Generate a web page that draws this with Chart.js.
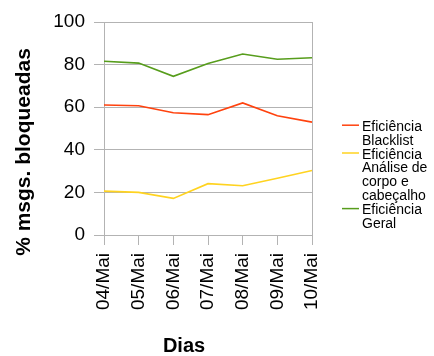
<!DOCTYPE html>
<html>
<head>
<meta charset="utf-8">
<script src="https://cdn.jsdelivr.net/npm/chart.js@4/dist/chart.umd.min.js"></script>
<style>
  html, body { margin: 0; padding: 0; background: #ffffff; }
  #wrap { width: 434px; height: 356px; }
</style>
</head>
<body>
<div id="wrap"><canvas id="c" width="434" height="356"></canvas></div>
<script>
const categories = ["04/Mai", "05/Mai", "06/Mai", "07/Mai", "08/Mai", "09/Mai", "10/Mai"];
const blacklist = [61.0, 60.7, 57.4, 56.5, 62.0, 56.0, 53.0];
const analise = [20.6, 20.0, 17.2, 24.1, 23.1, 26.6, 30.3];
const geral = [81.6, 80.7, 74.5, 80.5, 85.0, 82.5, 83.2];
const seriesNames = ["Eficiência\nBlacklist", "Eficiência\nAnálise de\ncorpo e\ncabeçalho", "Eficiência\nGeral"];
const yTicks = [0, 20, 40, 60, 80, 100];
const yTitle = "% msgs. bloqueadas";
const xTitle = "Dias";

const colors = ["#ff420e", "#ffd320", "#579d1c"];
const gridColor = "#b3b3b3";
const FONT = "'Liberation Sans', Arial, sans-serif";

const extras = {
  id: 'extras',
  afterDraw(chart) {
    const ctx = chart.ctx;
    ctx.save();
    // axis titles
    ctx.fillStyle = '#000';
    ctx.font = "bold 21px " + FONT;
    ctx.textAlign = 'center';
    ctx.textBaseline = 'middle';
    ctx.translate(24, 152);
    ctx.rotate(-Math.PI / 2);
    ctx.fillText(yTitle, 0, 0);
    ctx.setTransform(1, 0, 0, 1, 0, 0);
    ctx.font = "bold 20px " + FONT;
    ctx.fillText(xTitle, 184, 346);
    // legend
    ctx.font = "14px " + FONT;
    ctx.textAlign = 'left';
    ctx.textBaseline = 'alphabetic';
    let baseline = 130.7;
    const lh = 13.9;
    chart.data.datasets.forEach((ds) => {
      const lines = ds.label.split('\n');
      ctx.strokeStyle = ds.borderColor;
      ctx.lineWidth = 1.5;
      ctx.beginPath();
      ctx.moveTo(342, baseline - 5.5);
      ctx.lineTo(359, baseline - 5.5);
      ctx.stroke();
      ctx.fillStyle = '#000';
      lines.forEach(line => {
        ctx.fillText(line, 362, baseline);
        baseline += lh;
      });
    });
    ctx.restore();
  }
};

new Chart(document.getElementById('c'), {
  type: 'line',
  data: {
    labels: categories,
    datasets: [blacklist, analise, geral].map((d, i) => ({
      label: seriesNames[i],
      data: d,
      borderColor: colors[i],
      backgroundColor: colors[i],
      borderWidth: 1.6,
      pointRadius: 0,
      tension: 0,
      fill: false
    }))
  },
  options: {
    responsive: false,
    animation: false,
    devicePixelRatio: 1,
    layout: { padding: { left: 0, right: 122, top: 22, bottom: 0 } },
    plugins: { legend: { display: false }, tooltip: { enabled: false } },
    scales: {
      x: {
        offset: false,
        grid: {
          color: c => (c.index === categories.length - 1 ? gridColor : 'rgba(0,0,0,0)'),
          tickColor: gridColor,
          tickLength: 10,
          lineWidth: 1
        },
        border: { color: gridColor },
        ticks: {
          autoSkip: false,
          maxRotation: 90,
          minRotation: 90,
          padding: 8,
          color: '#000',
          font: { family: FONT, size: 19 }
        },
        afterFit(scale) { scale.height = 121; }
      },
      y: {
        min: 0,
        max: 100,
        afterBuildTicks(scale) { scale.ticks = yTicks.map(v => ({ value: v })); },
        grid: { color: gridColor, tickColor: gridColor, tickLength: 10, lineWidth: 1 },
        border: { color: gridColor },
        ticks: {
          padding: 9,
          color: '#000',
          font: { family: FONT, size: 19 }
        },
        afterFit(scale) { scale.width = 104; }
      }
    }
  },
  plugins: [extras]
});
</script>
</body>
</html>
